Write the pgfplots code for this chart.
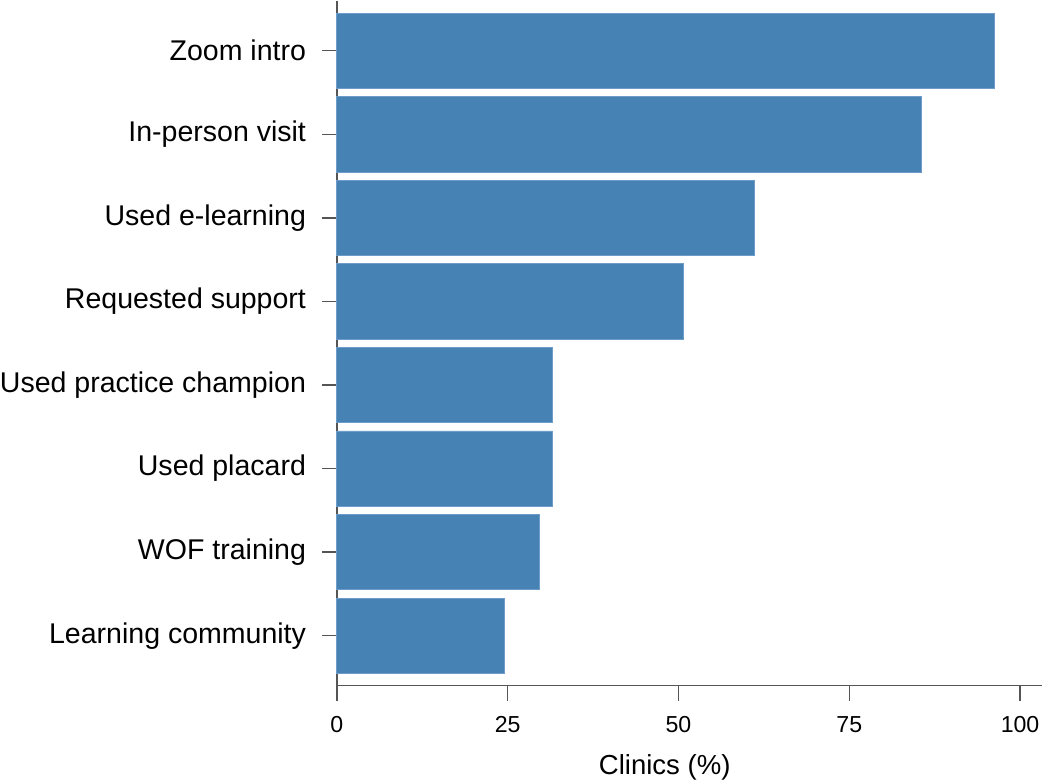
\documentclass[border=0pt]{standalone}
\usepackage{pgfplots}
\pgfplotsset{compat=1.18}
\usepackage{fontspec}
\setmainfont{Liberation Sans}
\definecolor{barblue}{HTML}{4682B4}
\definecolor{baredge}{HTML}{6E9CC8}
\definecolor{axgray}{HTML}{555555}
\begin{document}
\begin{tikzpicture}
\begin{axis}[
  scale only axis,
  width=353.5pt, height=343.5pt,
  xbar, bar width=0.9,
  xmin=0, xmax=103.2,
  ymin=-0.6, ymax=7.6,
  y dir=reverse,
  axis x line*=bottom, axis y line*=left,
  axis line style={draw=axgray, line width=0.65pt},
  xtick={0,25,50,75,100},
  ytick={0,1,2,3,4,5,6,7},
  yticklabels={Zoom intro,In-person visit,Used e-learning,Requested support,Used practice champion,Used placard,WOF training,Learning community},
  tick style={draw=axgray, line width=0.65pt},
  tick align=outside,
  major tick length=7.5pt,
  /pgf/number format/assume math mode=true,
  yticklabel style={font=\fontsize{14.3}{16}\selectfont, inner sep=0pt, xshift=-7.8pt},
  xticklabel style={font=\fontsize{11.6}{13}\selectfont, yshift=-4.5pt},
  xlabel={Clinics (\%)},
  xlabel style={font=\fontsize{13.8}{16}\selectfont, inner sep=0pt, at={(rel axis cs:0.465,0)}, anchor=base, yshift=-44.5pt},
  clip=false,
]
\addplot[fill=barblue, draw=baredge, line width=0.4pt] coordinates {
  (96.2,0) (85.6,1) (61.1,2) (50.7,3) (31.5,4) (31.5,5) (29.7,6) (24.5,7)
};
\end{axis}
\end{tikzpicture}
\end{document}
